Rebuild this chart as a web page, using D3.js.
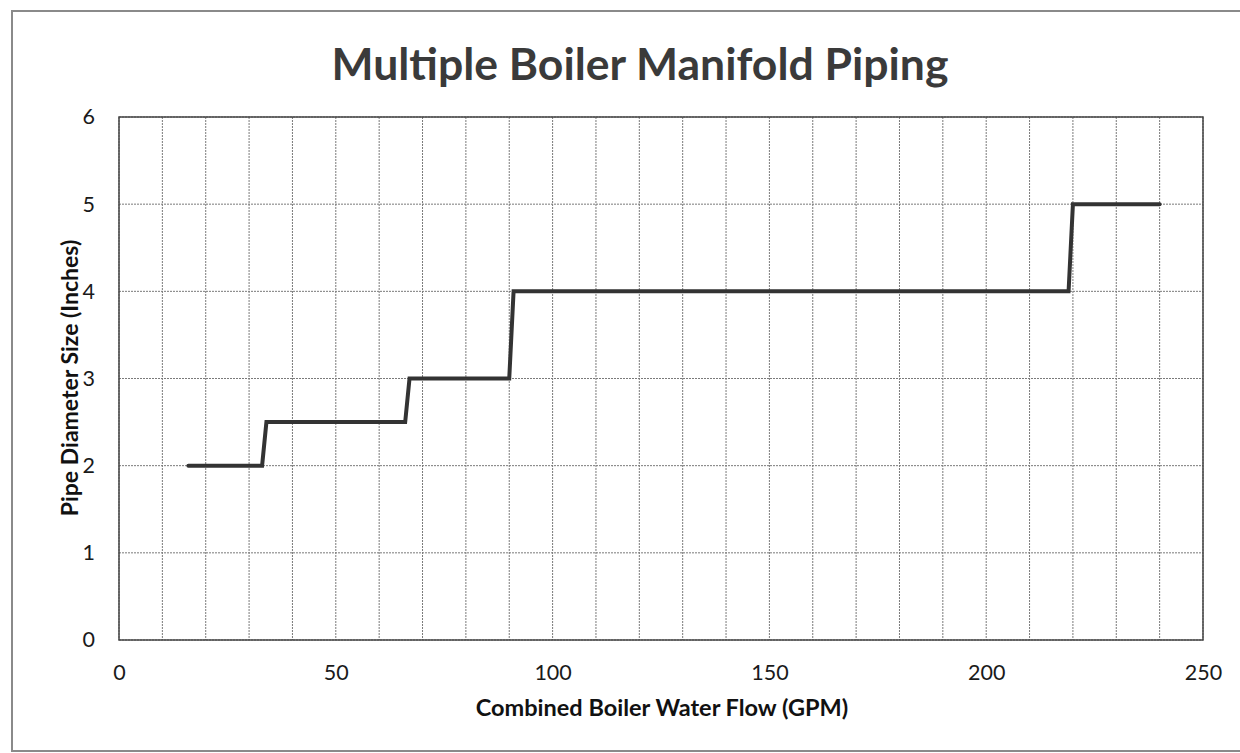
<!DOCTYPE html>
<html>
<head>
<meta charset="utf-8">
<script src="https://cdn.jsdelivr.net/npm/d3@7"></script>
<style>
  body { margin: 0; background: #fff; }
  svg { display: block; }
</style>
</head>
<body>
<svg id="chart" width="1240" height="753"></svg>
<script>
// step data (GPM, pipe size in inches)
var flow = [16, 33, 34, 66, 67, 90, 91, 219, 220, 240]
var pipeSize = [2, 2, 2.5, 2.5, 3, 3, 4, 4, 5, 5]
var xTicks = [0, 50, 100, 150, 200, 250]
var yTicks = [0, 1, 2, 3, 4, 5, 6]
var xGrid = d3.range(0, 251, 10)

var svg = d3.select("#chart")
var plotL = 119, plotR = 1203, plotT = 117, plotB = 640

// outer frame of the scanned page
svg.append("rect")
  .attr("x", 12).attr("y", 11)
  .attr("width", 1240).attr("height", 740)
  .attr("fill", "none").attr("stroke", "#8a8a8a").attr("stroke-width", 2)

var x = d3.scaleLinear().domain([0, 250]).range([plotL, plotR])
var y = d3.scaleLinear().domain([0, 6]).range([plotB, plotT])

// grid
svg.append("g").selectAll("line").data(xGrid).join("line")
  .attr("x1", function(d){ return x(d) }).attr("x2", function(d){ return x(d) })
  .attr("y1", plotT).attr("y2", plotB)
  .attr("stroke", "#7a7a7a").attr("stroke-width", 1).attr("stroke-dasharray", "2,1")
svg.append("g").selectAll("line").data(yTicks).join("line")
  .attr("x1", plotL).attr("x2", plotR)
  .attr("y1", function(d){ return y(d) }).attr("y2", function(d){ return y(d) })
  .attr("stroke", "#7a7a7a").attr("stroke-width", 1).attr("stroke-dasharray", "2,1")

// plot border
svg.append("rect")
  .attr("x", plotL).attr("y", plotT)
  .attr("width", plotR - plotL).attr("height", plotB - plotT)
  .attr("fill", "none").attr("stroke", "#444").attr("stroke-width", 1.5)

// axes (labels only, Excel style)
var xAxis = svg.append("g").attr("transform", "translate(0," + (plotB + 9) + ")")
  .call(d3.axisBottom(x).tickValues(xTicks).tickFormat(d3.format("d")).tickSize(0).tickPadding(16))
var yAxis = svg.append("g").attr("transform", "translate(" + (plotL - 24) + ",0)")
  .call(d3.axisLeft(y).tickValues(yTicks).tickFormat(d3.format("d")).tickSize(0).tickPadding(0))
;[xAxis, yAxis].forEach(function(a){
  a.select(".domain").remove()
  a.selectAll("text")
    .attr("font-family", "Lato, 'Open Sans', sans-serif")
    .attr("font-size", 21.5).attr("fill", "#1a1a1a")
})

// the step line
var pts = flow.map(function(f, i){ return [f, pipeSize[i]] })
svg.append("path")
  .datum(pts)
  .attr("d", d3.line().x(function(d){ return x(d[0]) }).y(function(d){ return y(d[1]) }))
  .attr("fill", "none").attr("stroke", "#333").attr("stroke-width", 4)
  .attr("stroke-linejoin", "miter").attr("stroke-linecap", "round")

// titles
svg.append("text")
  .attr("x", 640).attr("y", 80).attr("text-anchor", "middle")
  .attr("font-family", "Lato, sans-serif").attr("font-weight", "bold")
  .attr("font-size", 44.5).attr("fill", "#3a3a3a")
  .text("Multiple Boiler Manifold Piping")

svg.append("text")
  .attr("x", 662).attr("y", 716).attr("text-anchor", "middle")
  .attr("font-family", "Lato, sans-serif").attr("font-weight", "bold")
  .attr("font-size", 23.5).attr("fill", "#111")
  .text("Combined Boiler Water Flow (GPM)")

svg.append("text")
  .attr("transform", "translate(78,378) rotate(-90)")
  .attr("text-anchor", "middle")
  .attr("font-family", "Lato, sans-serif").attr("font-weight", "bold")
  .attr("font-size", 23).attr("fill", "#111")
  .text("Pipe Diameter Size (Inches)")
</script>
</body>
</html>
